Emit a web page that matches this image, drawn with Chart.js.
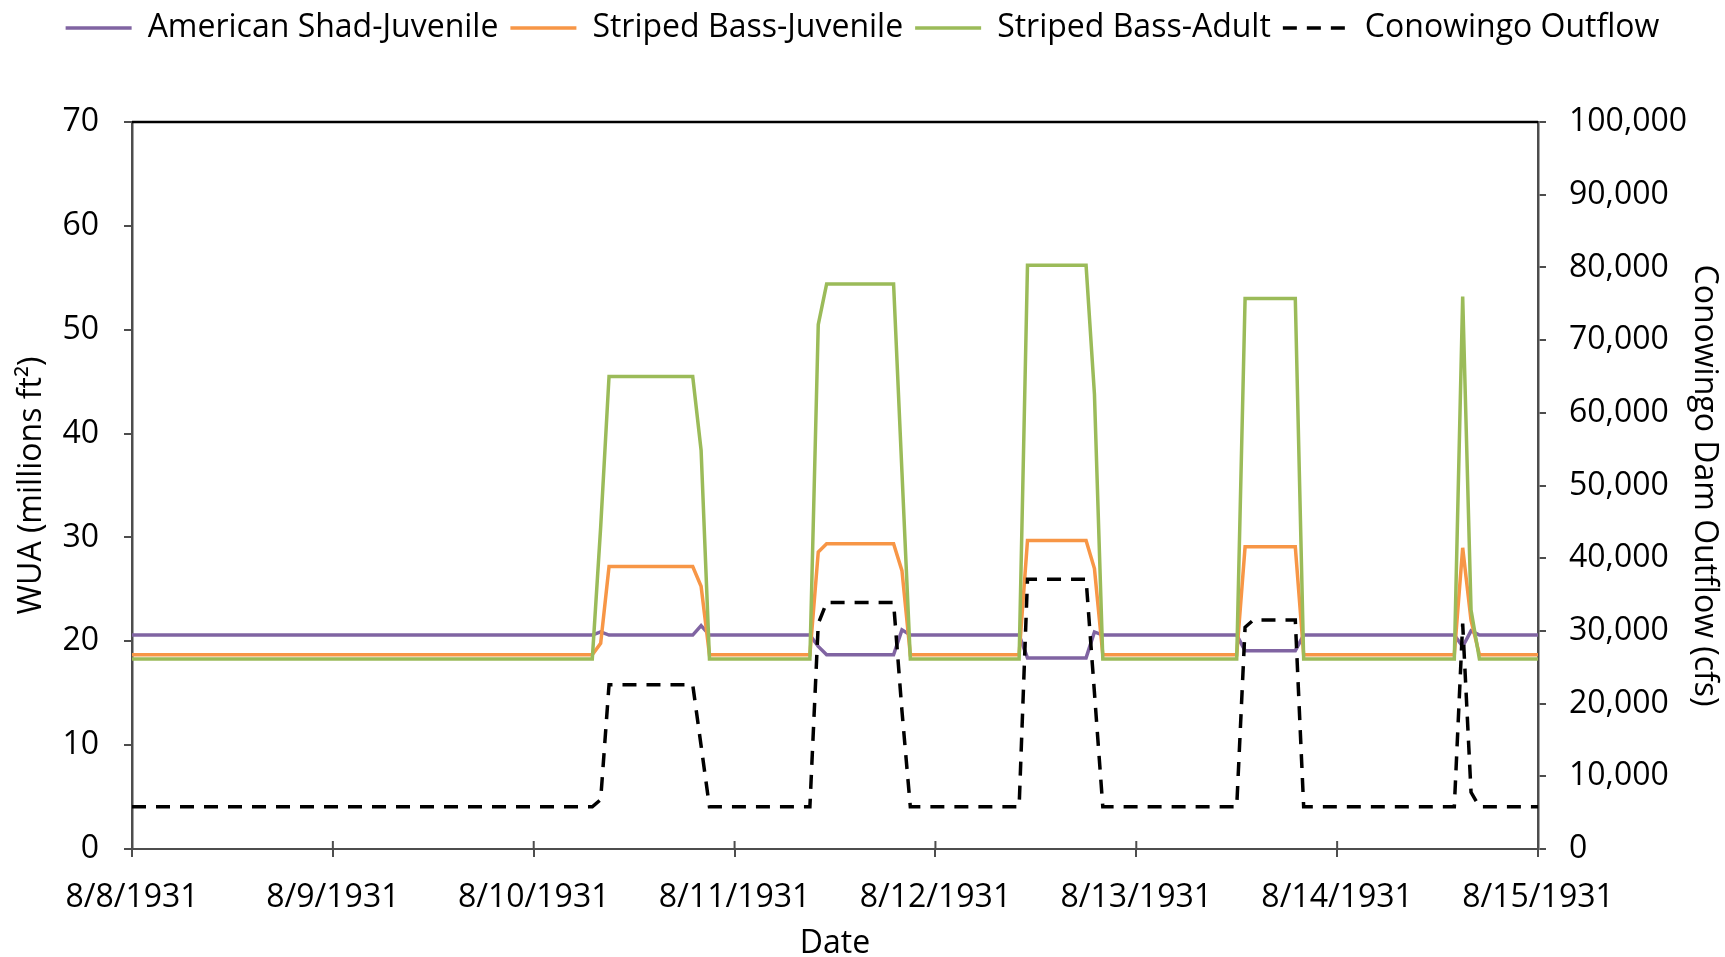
<!DOCTYPE html>
<html>
<head>
<meta charset="utf-8">
<script src="https://cdn.jsdelivr.net/npm/chart.js@4.4.1/dist/chart.umd.min.js"></script>
<style>
  html, body { margin: 0; padding: 0; background: #ffffff; }
  #wrap { width: 1725px; height: 957px; }
</style>
</head>
<body>
<div id="wrap"><canvas id="c" width="1725" height="957"></canvas></div>
<script>
// Time in hours since 8/8/1931 00:00
const hours = [0, 55, 56, 57, 67, 68, 69, 81, 82, 83, 90, 91, 92, 93, 106, 107, 114, 115, 116, 132, 133, 134, 139, 140, 158, 159, 160, 161, 168];

const shadJuvenile = [20.6, 20.6, 20.9, 20.6, 20.6, 21.5, 20.6, 20.6, 19.5, 18.7, 18.7, 18.7, 21.1, 20.6, 20.6, 18.4, 18.4, 20.9, 20.6, 20.6, 19.1, 19.1, 19.1, 20.6, 20.6, 19.5, 21.0, 20.6, 20.6];
const stripedJuvenile = [18.7, 18.7, 19.8, 27.2, 27.2, 25.3, 18.7, 18.7, 28.6, 29.4, 29.4, 29.4, 26.8, 18.7, 18.7, 29.7, 29.7, 27.0, 18.7, 18.7, 29.1, 29.1, 29.1, 18.7, 18.7, 29.0, 22.0, 18.7, 18.7];
const stripedAdult = [18.3, 18.3, 31.0, 45.5, 45.5, 38.4, 18.3, 18.3, 50.5, 54.4, 54.4, 54.4, 36.3, 18.3, 18.3, 56.2, 56.2, 43.8, 18.3, 18.3, 53.0, 53.0, 53.0, 18.3, 18.3, 53.2, 23.0, 18.3, 18.3];
const conowingoOutflow = [5800, 5800, 6800, 22600, 22600, 14200, 5800, 5800, 31000, 33900, 33900, 33900, 19000, 5800, 5800, 37100, 37100, 21500, 5800, 5800, 30500, 31500, 31500, 5800, 5800, 31000, 7800, 5800, 5800];

const dateLabels = ['8/8/1931', '8/9/1931', '8/10/1931', '8/11/1931', '8/12/1931', '8/13/1931', '8/14/1931', '8/15/1931'];
const seriesNames = ['American Shad-Juvenile', 'Striped Bass-Juvenile', 'Striped Bass-Adult', 'Conowingo Outflow'];

const pts = vals => hours.map((h, i) => ({x: h, y: vals[i]}));

Chart.defaults.font.family = "'Open Sans', 'Liberation Sans', sans-serif";
Chart.defaults.color = '#000000';

const AXIS_GRAY = '#4d4d4d';
const FS = 32;
const LW = 3.5;

const framePlugin = {
  id: 'framePlugin',
  beforeDatasetsDraw(chart) {
    const {ctx, chartArea: a} = chart;
    ctx.save();
    ctx.strokeStyle = '#000000';
    ctx.lineWidth = 2.5;
    ctx.beginPath();
    ctx.moveTo(a.left, a.top);
    ctx.lineTo(a.right, a.top);
    ctx.stroke();
    // inner half of the crossing x tick marks
    const xs = chart.scales.x;
    ctx.strokeStyle = AXIS_GRAY;
    ctx.lineWidth = 2;
    xs.ticks.forEach(t => {
      const px = xs.getPixelForValue(t.value);
      ctx.beginPath();
      ctx.moveTo(px, a.bottom);
      ctx.lineTo(px, a.bottom - 8);
      ctx.stroke();
    });
    ctx.restore();
  }
};

const legendLabels = chart => {
  const items = Chart.defaults.plugins.legend.labels.generateLabels(chart);
  items.forEach(it => {
    const ds = chart.data.datasets[it.datasetIndex];
    it.lineWidth = ds.borderWidth;
    it.lineDash = ds.borderDash || [];
    it.strokeStyle = ds.borderColor;
    it.lineCap = 'butt';
  });
  return items;
};

new Chart(document.getElementById('c'), {
  type: 'line',
  data: {
    datasets: [
      { label: seriesNames[0], data: pts(shadJuvenile), borderColor: '#8064A2', backgroundColor: '#8064A2', borderWidth: LW, yAxisID: 'y', order: 4 },
      { label: seriesNames[1], data: pts(stripedJuvenile), borderColor: '#F79646', backgroundColor: '#F79646', borderWidth: LW, yAxisID: 'y', order: 3 },
      { label: seriesNames[2], data: pts(stripedAdult), borderColor: '#9BBB59', backgroundColor: '#9BBB59', borderWidth: LW, yAxisID: 'y', order: 2 },
      { label: seriesNames[3], data: pts(conowingoOutflow), borderColor: '#000000', backgroundColor: '#000000', borderWidth: LW, borderDash: [14, 10], yAxisID: 'y1', order: 1 }
    ]
  },
  options: {
    responsive: false,
    animation: false,
    devicePixelRatio: 1,
    elements: { point: { radius: 0, hoverRadius: 0 }, line: { tension: 0, borderCapStyle: 'butt', borderJoinStyle: 'miter' } },
    layout: { padding: { top: 0, left: 0, right: 0, bottom: 0 } },
    plugins: {
      tooltip: { enabled: false },
      legend: {
        position: 'top',
        weight: 3000,
        labels: {
          usePointStyle: true,
          pointStyle: 'line',
          pointStyleWidth: 66,
          boxHeight: 3,
          padding: 12,
          color: '#000000',
          font: { size: FS },
          generateLabels: legendLabels,
          sort: (a, b) => a.datasetIndex - b.datasetIndex
        }
      },
      subtitle: {
        display: true,
        text: ' ',
        font: { size: 10, lineHeight: 1 },
        padding: { top: 0, bottom: 58 }
      }
    },
    scales: {
      x: {
        type: 'linear',
        min: 0,
        max: 168,
        offset: false,
        afterFit: s => { s.height = 108; },
        ticks: {
          stepSize: 24,
          autoSkip: false,
          maxRotation: 0,
          padding: 22,
          color: '#000000',
          font: { size: FS },
          callback: v => dateLabels[Math.round(v / 24)]
        },
        grid: { drawOnChartArea: false, drawTicks: true, tickLength: 8, color: AXIS_GRAY, lineWidth: 2 },
        border: { display: true, color: AXIS_GRAY, width: 2 },
        title: { display: true, text: 'Date', color: '#000000', font: { size: FS, lineHeight: 0.8 }, padding: { top: 0, bottom: 0 } }
      },
      y: {
        position: 'left',
        min: 0,
        max: 70,
        afterFit: s => { s.width = 132; },
        ticks: { stepSize: 10, padding: 25, color: '#000000', font: { size: FS } },
        grid: { drawOnChartArea: false, drawTicks: true, tickLength: 8, color: AXIS_GRAY, lineWidth: 2 },
        border: { display: true, color: AXIS_GRAY, width: 2.5 },
        title: { display: true, text: 'WUA (millions ft²)', color: '#000000', font: { size: FS, lineHeight: 1.2 }, padding: { top: 13, bottom: 0 } }
      },
      y1: {
        position: 'right',
        min: 0,
        max: 100000,
        afterFit: s => { s.width = 187; },
        ticks: { stepSize: 10000, padding: 23, color: '#000000', font: { size: FS }, callback: v => v.toLocaleString('en-US') },
        grid: { drawOnChartArea: false, drawTicks: true, tickLength: 8, color: AXIS_GRAY, lineWidth: 2 },
        border: { display: true, color: AXIS_GRAY, width: 2.5 },
        title: { display: true, text: 'Conowingo Dam Outflow (cfs)', color: '#000000', font: { size: FS, lineHeight: 1.2 }, padding: { top: 2, bottom: 0 } }
      }
    }
  },
  plugins: [framePlugin]
});
</script>
</body>
</html>
